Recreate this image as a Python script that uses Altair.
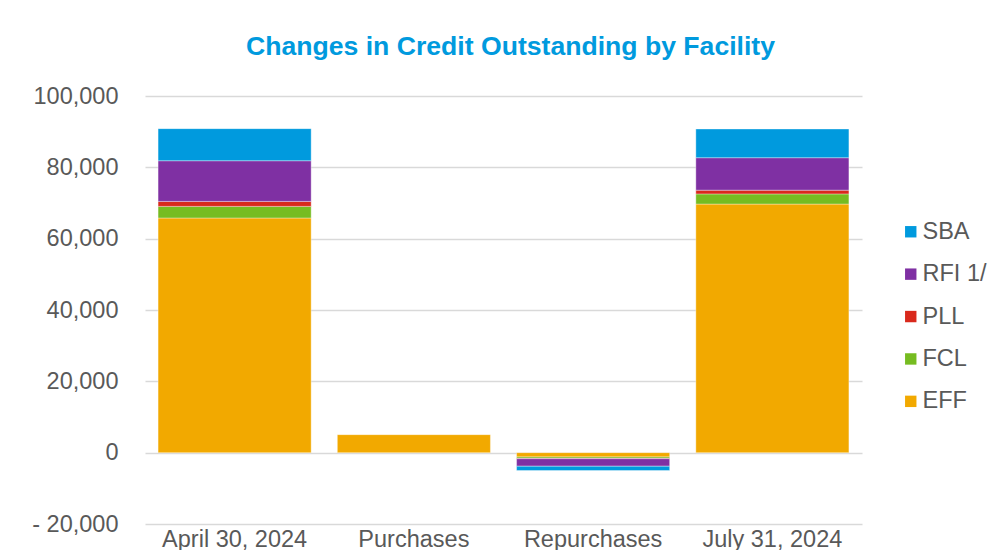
import altair as alt
import pandas as pd

categories = ["April 30, 2024", "Purchases", "Repurchases", "July 31, 2024"]
facilities = ["SBA", "RFI 1/", "PLL", "FCL", "EFF"]
colors = ["#009ADE", "#7F30A3", "#D9291C", "#76BC21", "#F2A900"]
stack_rank = {"EFF": 0, "FCL": 1, "PLL": 2, "RFI 1/": 3, "SBA": 4}

EFF = [65800, 5050, -1200, 69700]
FCL = [3250, 0, -400, 2850]
PLL = [1400, 0, -100, 1050]
RFI = [11400, 0, -2100, 9100]
SBA = [9000, 0, -1200, 8050]

series = {"EFF": EFF, "FCL": FCL, "PLL": PLL, "RFI 1/": RFI, "SBA": SBA}
rows = []
for fac, vals in series.items():
    for cat, v in zip(categories, vals):
        if v != 0:
            rows.append({"category": cat, "facility": fac, "value": v, "rank": stack_rank[fac]})
df = pd.DataFrame(rows)

FONT = "Liberation Sans"

chart = alt.Chart(df).mark_bar(stroke="white", strokeWidth=0.6, strokeOpacity=0.6).encode(
    x=alt.X("category:N", sort=categories, title=None,
            scale=alt.Scale(paddingInner=0.146, paddingOuter=0.073),
            axis=alt.Axis(labelAngle=0, labelFontSize=23.5, labelColor="#595959", labelFont=FONT,
                          labelPadding=3, domain=False, ticks=False, grid=False)),
    y=alt.Y("value:Q", title=None, stack="zero",
            scale=alt.Scale(domain=[-20000, 100000], nice=False),
            axis=alt.Axis(values=[-20000, 0, 20000, 40000, 60000, 80000, 100000],
                          labelExpr="datum.value < 0 ? '- ' + format(abs(datum.value), ',') : format(datum.value, ',')",
                          labelFontSize=23.5, labelColor="#595959", labelFont=FONT, labelPadding=27,
                          domain=False, ticks=False, grid=True, gridColor="#D9D9D9", gridWidth=1.5)),
    color=alt.Color("facility:N", scale=alt.Scale(domain=facilities, range=colors),
                    legend=alt.Legend(title=None, orient="none", legendX=754, legendY=124,
                                      symbolType="square", symbolSize=130, symbolStrokeWidth=0,
                                      labelFontSize=23.5, labelColor="#595959", labelFont=FONT,
                                      labelOffset=0, rowPadding=17.4)),
    order=alt.Order("rank:Q", sort="ascending"),
).properties(
    width=717, height=428,
    title=alt.TitleParams("Changes in Credit Outstanding by Facility", fontSize=26.6, font=FONT,
                          fontWeight="bold", color="#009ADE", anchor="middle", offset=23, dx=7),
    autosize=alt.AutoSizeParams(type="none"),
    padding={"left": 137, "top": 88, "right": 133, "bottom": 26},
).configure_view(stroke=None)

chart.save("out.html", embed_options={"renderer": "svg", "actions": False})
